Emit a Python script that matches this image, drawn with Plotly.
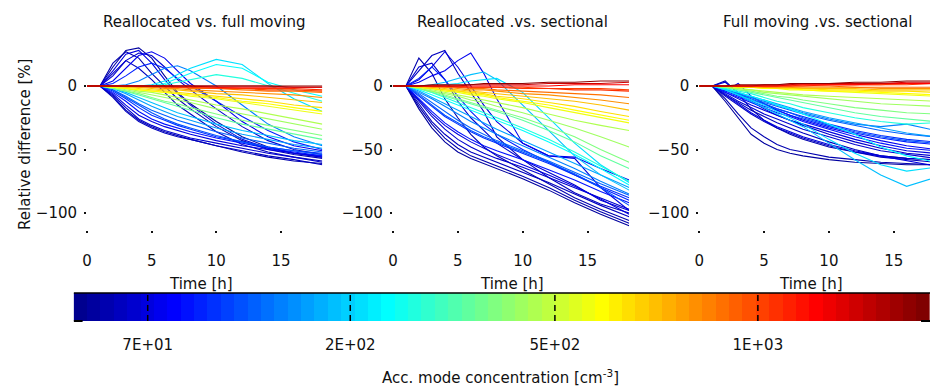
import numpy as np
import plotly.graph_objects as go

# ---------------- data ----------------
TIME_H = [0, 1, 2, 3, 4, 5, 6, 7, 8, 10, 12, 14, 16, 18.2]

# accumulation-mode concentration of each run [cm^-3]
CONC = [45, 50, 55, 58, 60, 65, 70, 75, 85, 95, 100, 120, 140, 165, 190, 215,
        240, 270, 330, 380, 430, 470, 560, 640, 720, 800, 880, 1100, 1300, 1600, 2000,
        52, 68, 110, 600, 1000]

PANEL_TITLES = ["Reallocated vs. full moving", "Reallocated .vs. sectional",
                "Full moving .vs. sectional"]

# Reallocated vs. full moving  (relative difference, %)
REALLOC_VS_FULL = [
    [0, 0, 15, 28, 30, 22, 8, -5, -14, -28, -40, -48, -53, -56],
    [0, 0, 18, 27, 22, 10, 0, -10, -18, -32, -43, -50, -54, -57],
    [0, 0, -9, -20, -28, -33, -37, -40, -42, -47, -51, -55, -58, -62],
    [0, 0, 10, 20, 14, 5, -5, -15, -22, -36, -46, -52, -56, -59],
    [0, 0, -7, -17, -26, -31, -35, -38, -41, -45, -49, -53, -56, -60],
    [0, 0, 8, 20, 26, 24, 15, 5, -3, -18, -32, -43, -50, -54],
    [0, 0, -6, -15, -23, -28, -32, -35, -38, -43, -47, -50, -53, -56],
    [0, 0, 4, 14, 24, 27, 22, 12, 2, -12, -28, -40, -47, -51],
    [0, 0, -5, -12, -20, -26, -30, -33, -36, -41, -45, -49, -52, -55],
    [0, 0, 2, 8, 15, 18, 14, 6, 0, -12, -24, -35, -44, -50],
    [0, 0, -4, -10, -17, -23, -27, -31, -34, -40, -44, -48, -51, -53],
    [0, 0, -3, -8, -14, -19, -23, -27, -30, -36, -41, -45, -49, -52],
    [0, 0, 0, 1, 4, 9, 14, 16, 12, 0, -15, -30, -40, -47],
    [0, 0, -2, -6, -11, -16, -20, -24, -27, -33, -38, -42, -46, -49],
    [0, 0, -2, -5, -9, -13, -17, -21, -24, -30, -35, -39, -43, -46],
    [0, 0, 0, 0, 0, 1, 4, 9, 14, 21, 17, 2, -10, -20],
    [0, 0, 0, 0, 0, 0, 2, 6, 10, 17, 14, 3, -3, -8],
    [0, 0, 0, 0, 0, 0, 1, 3, 5, 9, 6, 0, -6, -12],
    [0, 0, -2, -4, -7, -10, -13, -16, -19, -25, -30, -34, -38, -42],
    [0, 0, -2, -4, -6, -9, -12, -14, -17, -22, -27, -31, -35, -39],
    [0, 0, -1, -3, -5, -7, -9, -11, -13, -18, -22, -26, -30, -34],
    [0, 0, -1, -2, -4, -5, -7, -9, -11, -15, -18, -22, -26, -30],
    [0, 0, -1, -2, -3, -4, -5, -6, -8, -10, -13, -16, -19, -22],
    [0, 0, 0, -1, -2, -3, -4, -5, -6, -8, -10, -12, -15, -17],
    [0, 0, 0, -1, -1, -2, -3, -3, -4, -6, -7, -9, -11, -13],
    [0, 0, 0, 0, -1, -1, -2, -2, -3, -4, -5, -6, -7, -9],
    [0, 0, 0, 0, 0, -1, -1, -1, -2, -2, -3, -4, -4, -5],
    [0, 0, 0, 0, 0, 0, 0, -1, -1, -1, -2, -2, -2, -3],
    [0, 0, 0, 0, 0, 0, 0, 0, 0, -1, -1, -1, -1, -1],
    [0, 0, 0, 0, 0, 0, 0, 0, 0, 0, 0, 0, -1, -1],
    [0, 0, 0, 0, 0, 0, 0, 0, 0, 0, 0, 0, 0, 0],
    [0, 0, -8, -19, -27, -32, -36, -39, -42, -47, -52, -56, -59, -61],
    [0, 0, 12, 25, 28, 18, 5, -6, -15, -30, -42, -49, -53, -55],
    [0, 0, -3, -9, -15, -21, -26, -30, -33, -39, -44, -48, -51, -54],
    [0, 0, -1, -2, -3, -4, -5, -6, -7, -9, -12, -14, -17, -20],
    [0, 0, 0, 0, 0, 0, -1, -1, -1, -2, -2, -3, -3, -4],
]

# Reallocated vs. sectional
REALLOC_VS_SECT = [
    [0, 0, -18, -33, -44, -52, -57, -61, -65, -73, -82, -92, -101, -110],
    [0, 0, 22, 10, -10, -25, -38, -48, -55, -66, -77, -88, -97, -106],
    [0, 0, -14, -28, -38, -46, -52, -56, -60, -68, -76, -85, -94, -103],
    [0, 0, 12, 24, 28, 10, -5, -20, -40, -58, -72, -84, -93, -100],
    [0, 0, -12, -24, -34, -42, -48, -53, -57, -64, -72, -80, -88, -97],
    [0, 0, 15, 18, 5, -12, -25, -35, -45, -58, -68, -78, -90, -98],
    [0, 0, 5, 15, 27, 15, 0, -15, -28, -45, -55, -57, -80, -98],
    [0, 0, 3, 8, 12, 20, 26, 10, -10, -45, -55, -56, -65, -74],
    [0, 0, -10, -20, -29, -36, -42, -47, -51, -58, -66, -74, -83, -92],
    [0, 0, 6, 15, 5, -8, -20, -30, -38, -50, -60, -70, -80, -90],
    [0, 0, -8, -16, -24, -30, -36, -41, -45, -53, -61, -70, -79, -88],
    [0, 0, -6, -13, -20, -27, -33, -38, -43, -51, -59, -68, -77, -86],
    [0, 0, -5, -10, -16, -22, -28, -33, -38, -47, -56, -65, -75, -85],
    [0, 0, -4, -9, -14, -19, -24, -29, -34, -43, -52, -61, -70, -80],
    [0, 0, 0, 1, 3, 6, 9, 11, 5, -15, -35, -55, -70, -82],
    [0, 0, 0, 0, 1, 2, 4, 5, 6, -5, -25, -45, -62, -76],
    [0, 0, -3, -7, -11, -15, -19, -23, -27, -35, -44, -54, -65, -78],
    [0, 0, -2, -5, -9, -13, -17, -21, -25, -33, -42, -52, -63, -75],
    [0, 0, -2, -5, -8, -11, -14, -17, -20, -27, -35, -44, -55, -65],
    [0, 0, -2, -4, -7, -10, -13, -16, -19, -25, -32, -40, -50, -60],
    [0, 0, -2, -4, -6, -8, -11, -13, -16, -21, -27, -33, -40, -48],
    [0, 0, -1, -3, -5, -7, -9, -11, -13, -17, -22, -27, -31, -35],
    [0, 0, -1, -2, -4, -5, -7, -8, -10, -13, -17, -21, -25, -29],
    [0, 0, -1, -2, -3, -4, -5, -6, -8, -10, -13, -16, -20, -24],
    [0, 0, 0, -1, -2, -3, -4, -5, -6, -8, -10, -12, -15, -19],
    [0, 0, 0, -1, -1, -2, -3, -3, -4, -6, -7, -9, -11, -14],
    [0, 0, 0, 0, -1, -1, -2, -2, -3, -4, -5, -6, -7, -9],
    [0, 0, 0, 0, 0, -1, -1, -1, -1, -2, -2, -3, -3, -4],
    [0, 0, 0, 0, 0, 0, 0, 0, 0, 0, 0, 1, 1, 1],
    [0, 0, 0, 0, 0, 0, 1, 1, 1, 1, 2, 2, 2, 3],
    [0, 0, 0, 1, 1, 1, 1, 2, 2, 2, 3, 3, 4, 4],
    [0, 0, -16, -30, -41, -49, -55, -59, -63, -71, -80, -90, -99, -108],
    [0, 0, -11, -22, -31, -38, -44, -49, -54, -62, -70, -79, -89, -101],
    [0, 0, -7, -15, -23, -29, -35, -40, -44, -52, -60, -69, -80, -94],
    [0, 0, -1, -2, -3, -4, -6, -7, -9, -12, -15, -19, -23, -27],
    [0, 0, 0, 0, 0, 0, -1, -1, -1, -1, -2, -2, -2, -3],
]

# Full moving vs. sectional
FULL_VS_SECT = [
    [0, 0, -12, -25, -38, -45, -50, -53, -55, -58, -60, -61, -62, -62],
    [0, 0, -10, -22, -33, -40, -46, -50, -52, -56, -58, -60, -61, -62],
    [0, 0, -8, -15, -22, -28, -33, -37, -41, -47, -52, -56, -58, -60],
    [0, 0, -7, -13, -19, -24, -29, -33, -37, -44, -50, -55, -57, -58],
    [0, 0, -6, -12, -17, -22, -26, -30, -34, -40, -46, -51, -54, -57],
    [0, 0, 3, -5, -12, -18, -23, -27, -31, -38, -44, -49, -53, -55],
    [0, 0, -5, -10, -15, -19, -23, -27, -30, -36, -42, -47, -51, -53],
    [0, 0, -4, 2, -8, -14, -19, -23, -27, -33, -38, -43, -47, -50],
    [0, 0, -5, -9, -13, -17, -21, -24, -28, -34, -40, -45, -49, -51],
    [0, 0, -4, -8, -12, -16, -19, -23, -26, -32, -37, -41, -44, -46],
    [0, 0, -3, -7, -11, -14, -18, -21, -24, -30, -35, -39, -42, -44],
    [0, 0, -3, -6, -9, -13, -16, -19, -22, -27, -31, -35, -38, -40],
    [0, 0, -3, -6, -9, -12, -15, -18, -21, -26, -30, -32, -30, -35],
    [0, 0, -2, -5, -8, -11, -14, -17, -20, -25, -29, -33, -37, -40],
    [0, 0, -3, -7, -12, -17, -22, -27, -32, -45, -58, -70, -79, -72],
    [0, 0, -3, -7, -11, -15, -20, -25, -30, -42, -53, -62, -67, -64],
    [0, 0, -2, -5, -8, -11, -15, -18, -22, -30, -38, -48, -55, -60],
    [0, 0, -2, -4, -6, -9, -12, -14, -17, -21, -25, -28, -30, -29],
    [0, 0, -1, -3, -5, -7, -9, -11, -13, -17, -21, -24, -26, -28],
    [0, 0, -1, -3, -4, -6, -8, -9, -11, -14, -17, -19, -21, -22],
    [0, 0, -1, -2, -3, -5, -6, -7, -8, -10, -12, -14, -15, -16],
    [0, 0, -1, -2, -3, -4, -5, -6, -7, -8, -9, -10, -11, -12],
    [0, 0, 0, -1, -1, -2, -2, -3, -3, -4, -5, -6, -7, -8],
    [0, 0, 0, -1, -1, -1, -2, -2, -2, -3, -3, -4, -4, -5],
    [0, 0, 0, 0, -1, -1, -1, -1, -2, -2, -2, -3, -3, -3],
    [0, 0, 0, 0, 0, -1, -1, -1, -1, -1, -1, -2, -2, -2],
    [0, 0, 0, 0, 0, 0, 0, 0, 0, 0, -1, -1, -1, -1],
    [0, 0, 0, 0, 0, 0, 0, 0, 0, 1, 1, 1, 1, 2],
    [0, 0, 0, 0, 0, 0, 0, 1, 1, 1, 1, 2, 2, 2],
    [0, 0, 0, 0, 0, 1, 1, 1, 2, 2, 2, 2, 3, 3],
    [0, 0, 0, 1, 1, 1, 1, 2, 2, 2, 3, 3, 4, 4],
    [0, 0, 4, -6, -18, -27, -33, -38, -42, -48, -52, -55, -57, -58],
    [0, 0, -7, -14, -21, -27, -32, -36, -40, -46, -51, -55, -59, -63],
    [0, 0, -3, -6, -10, -14, -18, -21, -25, -31, -36, -40, -43, -45],
    [0, 0, 0, -1, -1, -2, -2, -2, -3, -4, -4, -5, -6, -7],
    [0, 0, 0, 0, 0, 0, 0, 0, 1, 1, 1, 1, 2, 2],
]

Y_TICKS = [-100, -50, 0]
X_TICKS = [0, 5, 10, 15]
CBAR_TICK_CONC = [70, 200, 500, 1000]
CBAR_TICK_TEXT = ["7E+01", "2E+02", "5E+02", "1E+03"]

# colour-axis calibration (concentration -> fraction along colour bar)
CB_ANCHOR_CONC = [40, 70, 200, 500, 1000, 2200]
CB_ANCHOR_POS = [0.0, 0.0865, 0.323, 0.562, 0.799, 1.0]

# ---------------- style helpers ----------------
FONT = "DejaVu Sans, sans-serif"
FSIZE = 15
W, H = 930, 388


def jet64():
    m, n = 64, 16
    u = np.concatenate([np.arange(1, n + 1) / n, np.ones(n - 1), np.arange(n, 0, -1) / n])
    g = n // 2 - (1 if m % 4 == 1 else 0) + np.arange(1, len(u) + 1)
    r = g + n
    b = g - n
    J = np.zeros((m, 3))
    for arr, ch in ((r, 0), (g, 1), (b, 2)):
        for k, idx in enumerate(arr):
            if 1 <= idx <= m:
                J[idx - 1, ch] = u[k]
    return J


JET = jet64()


def rgb(c):
    return "rgb(%d,%d,%d)" % tuple(int(round(v * 255)) for v in c)


def conc_pos(c):
    return float(np.interp(np.log10(c), np.log10(CB_ANCHOR_CONC), CB_ANCHOR_POS))


def conc_color(c):
    idx = min(63, max(0, int(conc_pos(c) * 64)))
    return rgb(JET[idx])


def px(x):
    return x / W


def py(y):
    return (H - y) / H


# ---------------- figure ----------------
fig = go.Figure()

panels = [REALLOC_VS_FULL, REALLOC_VS_SECT, FULL_VS_SECT]
order = np.argsort(CONC, kind="stable")
for p, data in enumerate(panels):
    ax = "" if p == 0 else str(p + 1)
    for i in order:
        fig.add_trace(go.Scatter(
            x=TIME_H, y=data[i], mode="lines",
            line=dict(color=conc_color(CONC[i]), width=1.1),
            xaxis="x" + ax, yaxis="y" + ax, showlegend=False, hoverinfo="skip"))

# colour bar drawn as a heat-map strip
colorscale = [[k / 63, rgb(JET[k])] for k in range(64)]
fig.add_trace(go.Heatmap(
    z=[list(range(64))], x=list(range(64)), y=[0], colorscale=colorscale,
    zmin=0, zmax=63, showscale=False, xaxis="x4", yaxis="y4", hoverinfo="skip"))

x_dom = [(82.5, 319), (390, 627.5), (698, 930)]
x_rng = [[0, 18.2], [0, 18.2], [0, 17.8]]
y_dom = [py(230), py(36)]
y_rng = [-113.4, 39.4]

tickfont = dict(family=FONT, size=FSIZE, color="#111")
layout = dict(
    width=W, height=H, margin=dict(l=0, r=0, t=0, b=0),
    paper_bgcolor="white", plot_bgcolor="white", showlegend=False,
)
for p in range(3):
    ax = "" if p == 0 else str(p + 1)
    layout["xaxis" + ax] = dict(
        domain=[px(x_dom[p][0]), px(x_dom[p][1])], range=x_rng[p],
        anchor="y" + ax, showgrid=False, zeroline=False, showline=False,
        ticks="outside", ticklen=2, tickwidth=1.5, tickcolor="#111",
        tickvals=X_TICKS, tickfont=tickfont, ticklabelstandoff=15, fixedrange=True)
    layout["yaxis" + ax] = dict(
        domain=y_dom, range=y_rng, anchor="x" + ax,
        showgrid=False, zeroline=False, showline=False,
        ticks="outside", ticklen=2, tickwidth=1.5, tickcolor="#111",
        tickvals=Y_TICKS, tickfont=tickfont, ticklabelstandoff=4, fixedrange=True)

cb_ticks = [conc_pos(c) * 64 - 0.5 for c in CBAR_TICK_CONC]
layout["xaxis4"] = dict(
    domain=[px(69), 1.0], range=[-0.5, 63.5], anchor="y4",
    showgrid=False, zeroline=False, showline=False, ticks="",
    tickvals=cb_ticks, ticktext=CBAR_TICK_TEXT, tickfont=tickfont,
    ticklabelstandoff=13, fixedrange=True)
layout["yaxis4"] = dict(
    domain=[py(321), py(293)], range=[-0.5, 0.5], anchor="x4",
    showgrid=False, zeroline=False, showline=False, showticklabels=False,
    ticks="", fixedrange=True)

shapes = []
for t in cb_ticks:
    shapes.append(dict(type="line", xref="x4", yref="y4 domain", x0=t, x1=t, y0=0, y1=1,
                       line=dict(color="black", width=1.5, dash="6px,4px"), layer="above"))
shapes.append(dict(type="line", xref="x4", yref="y4 domain", x0=-0.5, x1=63.5, y0=1, y1=1,
                   line=dict(color="black", width=1.5), layer="above"))
shapes.append(dict(type="line", xref="x4", yref="y4 domain", x0=-0.5, x1=0.17, y0=0, y1=0,
                   line=dict(color="black", width=2), layer="above"))
shapes.append(dict(type="line", xref="x4", yref="y4 domain", x0=62.83, x1=63.5, y0=0, y1=0,
                   line=dict(color="black", width=2), layer="above"))
layout["shapes"] = shapes

txt = dict(family=FONT, size=FSIZE, color="#111")
annotations = []
for p, (cx, title) in enumerate(zip([200.7, 510, 817], PANEL_TITLES)):
    annotations.append(dict(text=title, x=px(cx), y=py(22), xref="paper", yref="paper",
                            xanchor="center", yanchor="middle", showarrow=False, font=txt))
for cx in [197, 510, 810]:
    annotations.append(dict(text="Time [h]", x=px(cx), y=py(284), xref="paper", yref="paper",
                            xanchor="center", yanchor="middle", showarrow=False, font=txt))
annotations.append(dict(text="Relative difference [%]", x=px(20), y=py(144), xref="paper",
                        yref="paper", xanchor="center", yanchor="middle", textangle=-90,
                        showarrow=False, font=txt))
annotations.append(dict(text="Acc. mode concentration [cm<sup>-3</sup>]", x=px(498), y=py(377),
                        xref="paper", yref="paper", xanchor="center", yanchor="middle",
                        showarrow=False, font=txt))
layout["annotations"] = annotations

fig.update_layout(**layout)
fig.write_html("out.html")
